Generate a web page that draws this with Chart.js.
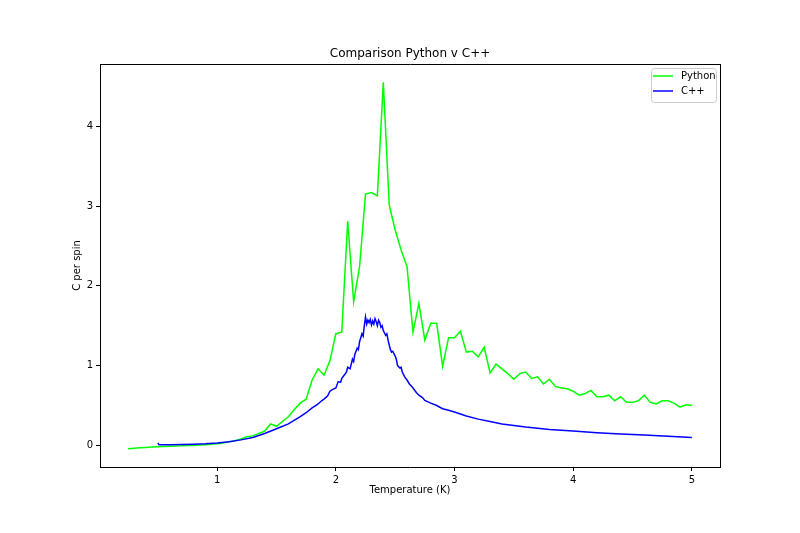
<!DOCTYPE html>
<html>
<head>
<meta charset="utf-8">
<script src="https://cdn.jsdelivr.net/npm/chart.js"></script>
<style>
html,body{margin:0;padding:0;background:#fff;}
#wrap{width:800px;height:533px;position:relative;}
</style>
</head>
<body>
<div id="wrap"><canvas id="c" width="800" height="533"></canvas></div>
<script>
// ---- data ----
const pyTemp = [0.25,0.30,0.35,0.40,0.45,0.50,0.55,0.60,0.65,0.70,0.75,0.80,0.85,0.90,0.95,1.00,1.05,1.10,1.15,1.20,1.25,1.30,1.35,1.40,1.45,1.50,1.55,1.60,1.65,1.70,1.75,1.80,1.85,1.90,1.95,2.00,2.05,2.10,2.15,2.20,2.25,2.30,2.35,2.40,2.45,2.50,2.55,2.60,2.65,2.70,2.75,2.80,2.85,2.90,2.95,3.00,3.05,3.10,3.15,3.20,3.25,3.30,3.35,3.40,3.45,3.50,3.55,3.60,3.65,3.70,3.75,3.80,3.85,3.90,3.95,4.00,4.05,4.10,4.15,4.20,4.25,4.30,4.35,4.40,4.45,4.50,4.55,4.60,4.65,4.70,4.75,4.80,4.85,4.90,4.95,5.00];
const pyC = [-0.04,-0.035,-0.03,-0.025,-0.02,-0.015,-0.012,-0.01,-0.008,-0.005,0.0,0.0,0.005,0.01,0.015,0.02,0.03,0.045,0.06,0.08,0.11,0.12,0.15,0.18,0.27,0.24,0.30,0.36,0.45,0.53,0.58,0.82,0.96,0.88,1.06,1.40,1.42,2.81,1.80,2.24,3.15,3.17,3.13,4.55,3.01,2.70,2.45,2.24,1.42,1.78,1.32,1.53,1.53,0.99,1.35,1.35,1.43,1.17,1.18,1.11,1.23,0.91,1.02,0.96,0.90,0.83,0.90,0.92,0.84,0.86,0.77,0.83,0.74,0.72,0.71,0.68,0.63,0.65,0.69,0.61,0.61,0.63,0.56,0.61,0.54,0.54,0.56,0.63,0.54,0.52,0.56,0.56,0.53,0.48,0.51,0.50];

const cppTemp = [0.50,0.51,0.55,0.60,0.70,0.80,0.90,1.00,1.10,1.20,1.30,1.40,1.50,1.60,1.70,1.75,1.80,1.83,1.85,1.88,1.90,1.93,1.95,1.97,2.00,2.02,2.04,2.05,2.07,2.09,2.10,2.12,2.14,2.15,2.16,2.18,2.19,2.20,2.22,2.23,2.24,2.25,2.26,2.27,2.28,2.29,2.30,2.31,2.32,2.33,2.34,2.35,2.36,2.37,2.38,2.39,2.40,2.42,2.43,2.44,2.46,2.47,2.48,2.50,2.51,2.52,2.54,2.55,2.56,2.58,2.60,2.62,2.64,2.65,2.68,2.70,2.73,2.75,2.80,2.85,2.90,2.95,3.00,3.10,3.20,3.30,3.40,3.50,3.60,3.70,3.80,3.90,4.00,4.20,4.40,4.60,4.80,5.00];
const cppC = [0.03,0.01,0.01,0.01,0.012,0.015,0.02,0.03,0.045,0.07,0.10,0.15,0.21,0.27,0.36,0.41,0.47,0.50,0.52,0.56,0.58,0.62,0.68,0.70,0.72,0.80,0.79,0.84,0.88,0.92,0.98,0.96,1.08,1.05,1.14,1.22,1.20,1.30,1.40,1.37,1.50,1.61,1.52,1.57,1.54,1.58,1.51,1.56,1.52,1.59,1.55,1.50,1.57,1.54,1.48,1.50,1.44,1.38,1.40,1.32,1.20,1.17,1.18,1.12,1.08,1.00,0.97,0.98,0.92,0.86,0.82,0.77,0.74,0.72,0.66,0.63,0.60,0.565,0.53,0.50,0.46,0.44,0.42,0.37,0.33,0.30,0.27,0.25,0.23,0.215,0.20,0.19,0.18,0.16,0.145,0.13,0.115,0.10];

const xTickVals = [1,2,3,4,5];
const yTickVals = [0,1,2,3,4];
const seriesNames = ['Python','C++'];
const titleText = 'Comparison Python v C++';
const xLabel = 'Temperature (K)';
const yLabel = 'C per spin';

const FONT = 'DejaVu Sans';
const pts = (xs, ys) => xs.map((x, i) => ({x: x, y: ys[i]}));

const decor = {
  id: 'decor',
  afterDraw(chart) {
    const ctx = chart.ctx;
    const a = chart.chartArea;
    ctx.save();
    const cx = (a.left + a.right) / 2;
    ctx.fillStyle = '#000';
    ctx.textAlign = 'center';
    ctx.textBaseline = 'middle';
    ctx.font = '12px "' + FONT + '"';
    ctx.fillText(titleText, cx, 54);
    ctx.font = '10px "' + FONT + '"';
    ctx.fillText(xLabel, cx, 490);
    ctx.save();
    ctx.translate(77, (a.top + a.bottom) / 2);
    ctx.rotate(-Math.PI / 2);
    ctx.fillText(yLabel, 0, 0);
    ctx.restore();
    // legend
    const bx = 651.5, by = 68.5, bw = 65, bh = 34, r = 3;
    ctx.beginPath();
    ctx.moveTo(bx + r, by);
    ctx.lineTo(bx + bw - r, by); ctx.quadraticCurveTo(bx + bw, by, bx + bw, by + r);
    ctx.lineTo(bx + bw, by + bh - r); ctx.quadraticCurveTo(bx + bw, by + bh, bx + bw - r, by + bh);
    ctx.lineTo(bx + r, by + bh); ctx.quadraticCurveTo(bx, by + bh, bx, by + bh - r);
    ctx.lineTo(bx, by + r); ctx.quadraticCurveTo(bx, by, bx + r, by);
    ctx.closePath();
    ctx.fillStyle = 'rgba(255,255,255,0.8)';
    ctx.fill();
    ctx.strokeStyle = '#cccccc';
    ctx.lineWidth = 1;
    ctx.stroke();
    const cols = ['#00ff00', '#0000ff'];
    const ly = [76, 91];
    ctx.textAlign = 'left';
    for (let i = 0; i < 2; i++) {
      ctx.strokeStyle = cols[i];
      ctx.lineWidth = 1.5;
      ctx.beginPath();
      ctx.moveTo(653, ly[i]); ctx.lineTo(673, ly[i]);
      ctx.stroke();
      ctx.fillStyle = '#000';
      ctx.fillText(seriesNames[i], 681, ly[i]);
    }
    ctx.restore();
  }
};

const axisCommon = (ticksArr) => ({
  type: 'linear',
  afterBuildTicks: (s) => { s.ticks = ticksArr.map(v => ({value: v})); },
  grid: { drawOnChartArea: false, drawTicks: true, tickLength: 4, color: '#000', tickWidth: 1 },
  border: { display: true, color: '#000', width: 1 },
  ticks: { font: { family: FONT, size: 10 }, color: '#000', padding: 3, maxRotation: 0, autoSkip: false,
           callback: (v) => String(v) }
});

const xAxis = Object.assign(axisCommon(xTickVals), { min: 0.0125, max: 5.2375,
  afterFit: (s) => { s.height = 66; } });
const yAxis = Object.assign(axisCommon(yTickVals), { min: -0.27, max: 4.78,
  afterFit: (s) => { s.width = 100; } });
// top and right spines
const xTop = { type: 'linear', position: 'top', min: 0.0125, max: 5.2375,
  grid: { display: true, drawOnChartArea: false, drawTicks: false, color: 'rgba(0,0,0,0)' },
  border: { display: true, color: '#000', width: 1 },
  ticks: { display: false }, afterFit: (s) => { s.height = 0; } };
const yRight = { type: 'linear', position: 'right', min: -0.27, max: 4.78,
  grid: { display: true, drawOnChartArea: false, drawTicks: false, color: 'rgba(0,0,0,0)' },
  border: { display: true, color: '#000', width: 1 },
  ticks: { display: false }, afterFit: (s) => { s.width = 0; } };

new Chart(document.getElementById('c'), {
  type: 'line',
  data: {
    datasets: [
      { label: seriesNames[0], data: pts(pyTemp, pyC), borderColor: '#00ff00', borderWidth: 1.5,
        pointRadius: 0, fill: false, tension: 0, order: 1 },
      { label: seriesNames[1], data: pts(cppTemp, cppC), borderColor: '#0000ff', borderWidth: 1.5,
        pointRadius: 0, fill: false, tension: 0, order: 0 }
    ]
  },
  options: {
    responsive: false,
    animation: false,
    devicePixelRatio: 1,
    layout: { padding: { top: 64, right: 80, left: 0, bottom: 0 } },
    plugins: { legend: { display: false }, title: { display: false }, tooltip: { enabled: false } },
    scales: { x: xAxis, y: yAxis, xTop: xTop, yRight: yRight }
  },
  plugins: [decor]
});
</script>
</body>
</html>
